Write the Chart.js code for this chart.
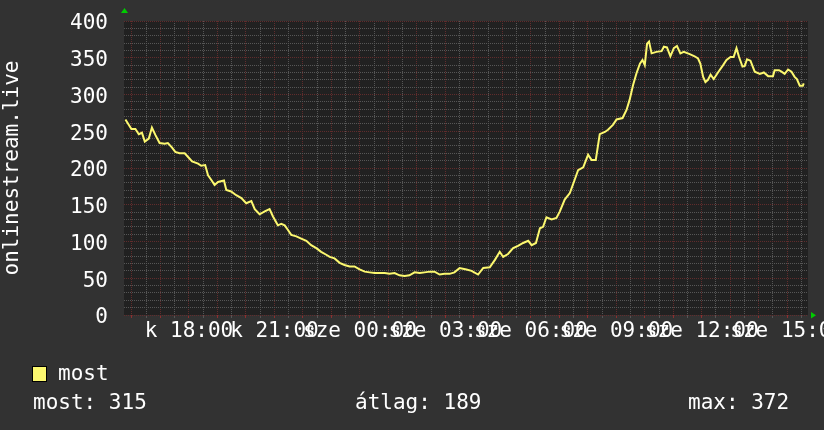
<!DOCTYPE html>
<html>
<head>
<meta charset="utf-8">
<script src="https://cdn.jsdelivr.net/npm/chart.js@4.4.1/dist/chart.umd.min.js"></script>
<style>
  html, body { margin: 0; padding: 0; background: #323232; }
  #wrap { position: relative; width: 824px; height: 430px; overflow: hidden; background: #323232; }
  #c { position: absolute; left: 0; top: 0; }
  .txt { position: absolute; font-family: "DejaVu Sans Mono", monospace; font-size: 21px; line-height: 21px; color: #ffffff; white-space: pre; }
  #sw { position: absolute; left: 32px; top: 366px; width: 13px; height: 14px; background: #fcf86f; border: 1px solid #000; }
</style>
</head>
<body>
<div id="wrap">
  <canvas id="c" width="824" height="430"></canvas>
  <div id="sw"></div>
  <div class="txt" id="legName" style="left:58px; top:363px;"></div>
  <div class="txt" id="statNow" style="left:33px; top:392px;"></div>
  <div class="txt" id="statAvg" style="left:355px; top:392px;"></div>
  <div class="txt" id="statMax" style="left:688px; top:392px;"></div>
</div>
<script>
// ---- data (hours since Tuesday 00:00) ----
const times = [
  15.77, 15.98, 16.12, 16.24, 16.35, 16.45, 16.59, 16.70, 16.82, 16.97,
  17.15, 17.26, 17.40, 17.52, 17.67, 17.85, 17.97, 18.11, 18.32, 18.43,
  18.57, 18.67, 18.78, 18.90, 19.02, 19.23, 19.31, 19.48, 19.66, 19.84,
  20.01, 20.19, 20.31, 20.48, 20.66, 20.83, 20.95, 21.12, 21.24, 21.36,
  21.47, 21.59, 21.77, 21.94, 22.12, 22.29, 22.47, 22.64, 22.82, 22.94,
  23.11, 23.29, 23.46, 23.64, 23.81, 23.99, 24.17, 24.34, 24.52, 24.69,
  24.87, 25.04, 25.22, 25.39, 25.57, 25.74, 25.92, 26.10, 26.27, 26.45,
  26.62, 26.80, 26.97, 27.15, 27.32, 27.50, 27.74, 27.92, 28.15, 28.33,
  28.56, 28.74, 28.91, 29.03, 29.20, 29.38, 29.55, 29.73, 29.91, 30.03,
  30.18, 30.32, 30.43, 30.55, 30.73, 30.90, 31.02, 31.19, 31.37, 31.54,
  31.66, 31.84, 32.01, 32.13, 32.28, 32.42, 32.60, 32.71, 32.89, 33.01,
  33.22, 33.36, 33.47, 33.59, 33.71, 33.83, 33.92, 34.00, 34.08, 34.15,
  34.24, 34.41, 34.59, 34.67, 34.78, 34.90, 35.02, 35.13, 35.25, 35.37,
  35.58, 35.75, 35.87, 35.95, 36.05, 36.13, 36.22, 36.31, 36.42, 36.57,
  36.75, 36.87, 37.01, 37.12, 37.22, 37.31, 37.43, 37.51, 37.59, 37.71,
  37.86, 38.04, 38.18, 38.33, 38.50, 38.56, 38.71, 38.80, 38.91, 39.03,
  39.15, 39.26, 39.34, 39.44, 39.55, 39.58
];
const most = [
  266, 253, 253, 246, 248, 236, 240, 255, 245, 234,
  233, 234, 228, 222, 220, 220, 215, 209, 206, 203,
  204, 190, 184, 177, 181, 183, 170, 168, 163, 159,
  152, 155, 144, 137, 141, 144, 134, 122, 124, 122,
  116, 109, 107, 104, 101, 95, 91, 86, 82, 79,
  77, 71, 68, 66, 66, 62, 59, 58, 57, 57,
  57, 56, 57, 54, 53, 54, 58, 57, 58, 59,
  59, 55, 56, 56, 58, 64, 62, 60, 55, 64,
  65, 75, 86, 79, 83, 91, 94, 98, 101, 95,
  98, 118, 120, 133, 130, 132, 141, 157, 166, 184,
  197, 201, 218, 211, 211, 246, 249, 252, 259, 266,
  268, 279, 293, 313, 329, 342, 347, 340, 369, 372,
  356, 358, 359, 365, 364, 352, 363, 366, 356, 358,
  355, 352, 349, 342, 324, 317, 320, 327, 321, 330,
  340, 347, 351, 351, 363, 351, 338, 339, 348, 346,
  331, 328, 330, 325, 325, 333, 333, 331, 328, 334,
  331, 324, 321, 312, 312, 315
];
const xTickHours  = [18, 21, 24, 27, 30, 33, 36, 39];
const xTickLabels = ['k 18:00', 'k 21:00', 'sze 00:00', 'sze 03:00', 'sze 06:00', 'sze 09:00', 'sze 12:00', 'sze 15:00'];
const yTickValues = [0, 50, 100, 150, 200, 250, 300, 350, 400];
const seriesName = 'most';
const axisTitle = 'onlinestream.live';
const statLabels = ['most: 315', 'átlag: 189', 'max: 372'];

// ---- styling ----
const X_MIN = 15.72, X_MAX = 39.73;
const FONT = { family: 'DejaVu Sans Mono', size: 21, lineHeight: 1.2 };
const MAJOR = '#612c2c';
const MINOR = '#565656';
const LINE = '#fcf86f';

document.getElementById('legName').textContent = seriesName;
document.getElementById('statNow').textContent = statLabels[0];
document.getElementById('statAvg').textContent = statLabels[1];
document.getElementById('statMax').textContent = statLabels[2];

const bgPlugin = {
  id: 'bg',
  beforeDraw(chart) {
    const { ctx, chartArea: a } = chart;
    ctx.save();
    ctx.fillStyle = '#323232';
    ctx.fillRect(0, 0, chart.width, chart.height);
    ctx.fillStyle = '#212121';
    ctx.fillRect(a.left, a.top, a.right - a.left, a.bottom - a.top);
    ctx.restore();
  },
  afterDraw(chart) {
    const { ctx, chartArea: a } = chart;
    ctx.save();
    ctx.fillStyle = '#00cc00';
    ctx.beginPath();
    ctx.moveTo(a.left - 3, a.top - 8);
    ctx.lineTo(a.left + 4, a.top - 8);
    ctx.lineTo(a.left + 0.5, a.top - 13);
    ctx.closePath();
    ctx.fill();
    ctx.beginPath();
    ctx.moveTo(a.right + 3, a.bottom - 3);
    ctx.lineTo(a.right + 3, a.bottom + 3.5);
    ctx.lineTo(a.right + 8, a.bottom + 0.25);
    ctx.closePath();
    ctx.fill();
    ctx.restore();
  }
};

const isMult = (v, m) => Math.abs(v / m - Math.round(v / m)) < 1e-6;

new Chart(document.getElementById('c'), {
  type: 'line',
  data: {
    datasets: [{
      label: seriesName,
      data: times.map((t, i) => ({ x: t, y: most[i] })),
      borderColor: LINE,
      borderWidth: 2,
      pointRadius: 0,
      tension: 0,
      fill: false
    }]
  },
  options: {
    responsive: false,
    animation: false,
    devicePixelRatio: 1,
    layout: { padding: { top: 21, right: 16, bottom: 75, left: 0 } },
    plugins: { legend: { display: false }, tooltip: { enabled: false } },
    scales: {
      x: {
        type: 'linear',
        min: X_MIN,
        max: X_MAX,
        afterFit(s) { s.height = 40; s.paddingLeft = 0; s.paddingRight = 0; },
        border: { display: false, dash: [1, 1] },
        grid: {
          color: ctx => isMult(ctx.tick.value, 1) ? MAJOR : MINOR,
          tickColor: ctx => isMult(ctx.tick.value, 1) ? '#8a3030' : MINOR,
          lineWidth: 1,
          drawTicks: true,
          tickLength: 3,
          tickBorderDash: []
        },
        ticks: {
          stepSize: 0.5,
          autoSkip: false,
          maxRotation: 0,
          minRotation: 0,
          includeBounds: false,
          color: '#ffffff',
          font: FONT,
          padding: 1,
          callback: v => {
            const i = xTickHours.findIndex(h => Math.abs(h - v) < 1e-6);
            return i >= 0 ? xTickLabels[i] : '';
          }
        }
      },
      y: {
        min: 0,
        max: 400,
        afterFit(s) { s.width = 124; s.paddingTop = 0; s.paddingBottom = 0; },
        border: { display: false, dash: [1, 1] },
        grid: {
          color: ctx => isMult(ctx.tick.value, 50) ? MAJOR : MINOR,
          lineWidth: 1,
          drawTicks: false
        },
        ticks: {
          stepSize: 10,
          autoSkip: false,
          color: '#ffffff',
          font: FONT,
          padding: 16,
          labelOffset: 3,
          callback: v => yTickValues.includes(v) ? String(v) : ''
        },
        title: {
          display: true,
          text: axisTitle,
          color: '#ffffff',
          font: FONT,
          padding: 0
        }
      }
    }
  },
  plugins: [bgPlugin]
});
</script>
</body>
</html>
